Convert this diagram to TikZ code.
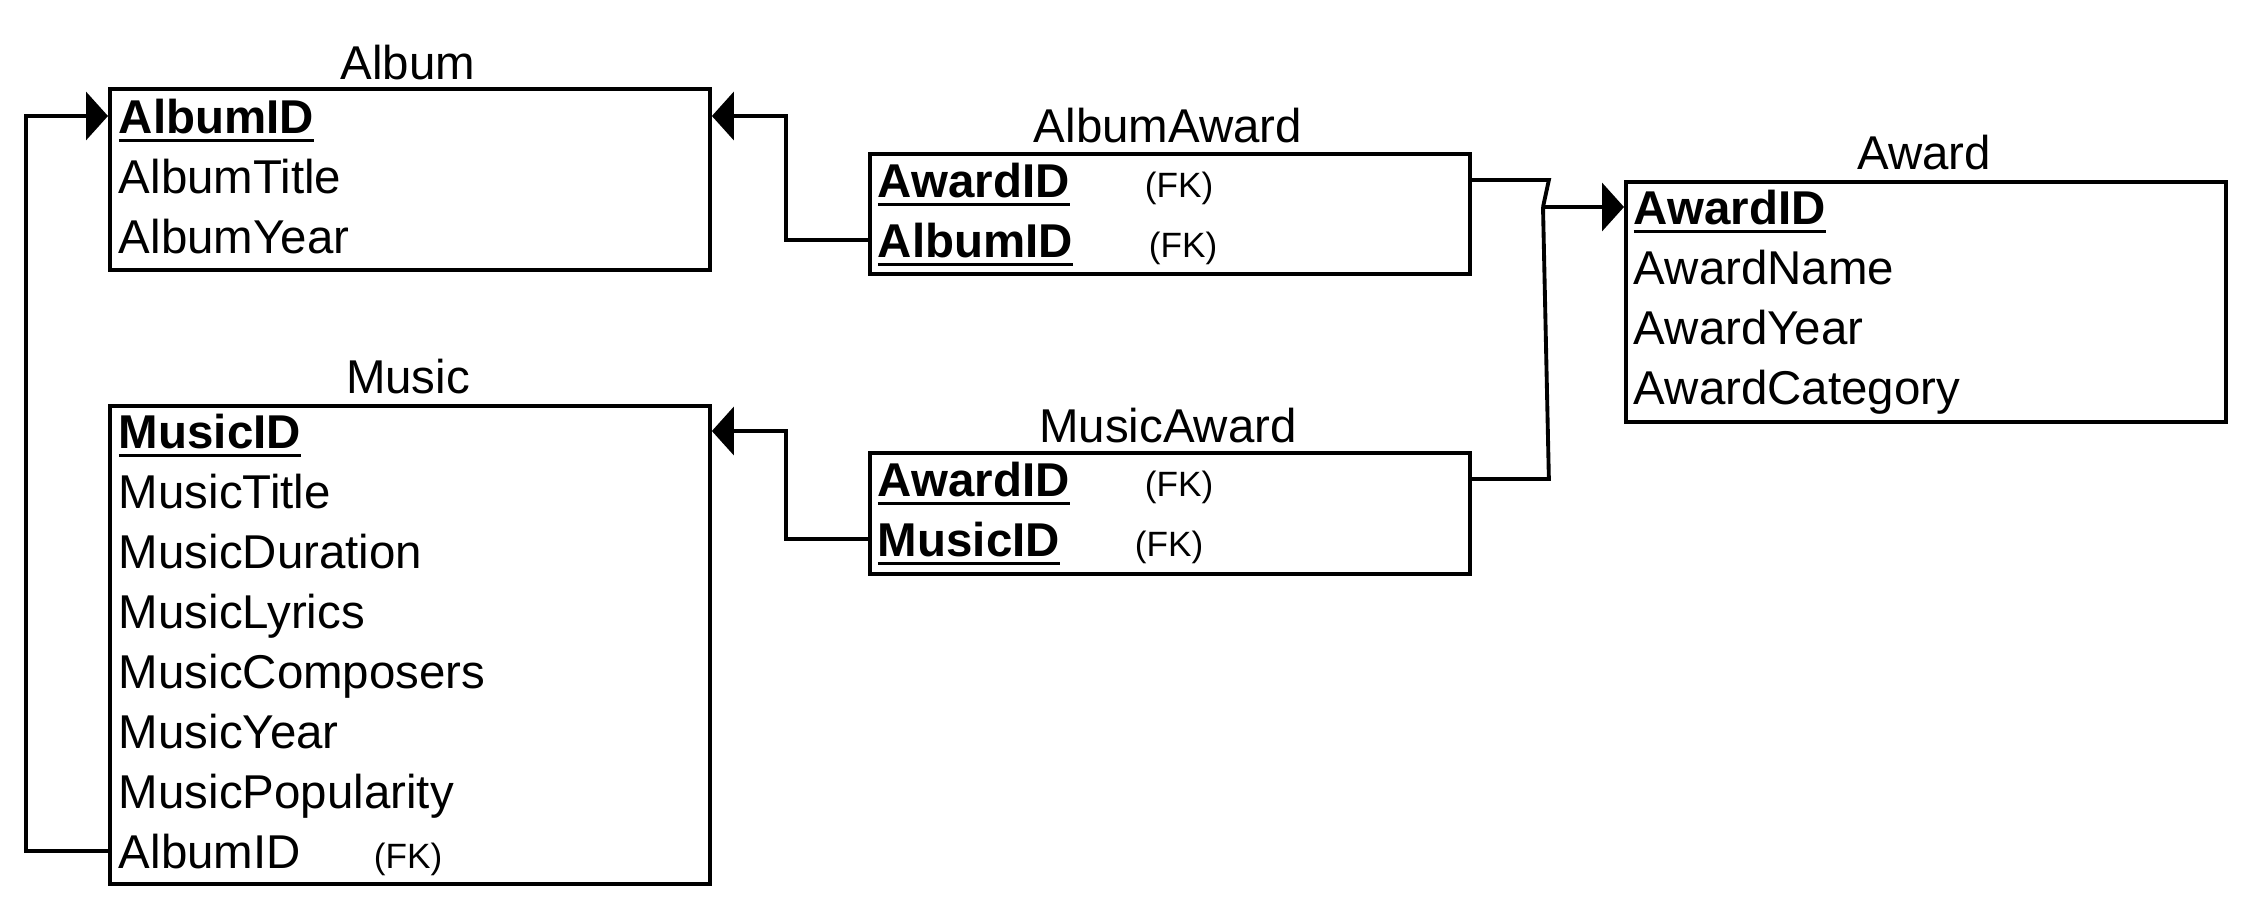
\documentclass[tikz,border=0pt]{standalone}
\usepackage{fontspec}
\setmainfont{Liberation Sans}
\usetikzlibrary{arrows.meta}

\newsavebox{\keybox}
\newcommand{\pkey}[1]{\sbox{\keybox}{\bfseries #1}\rlap{\rule[-0.09cm]{\wd\keybox}{0.035cm}}\usebox{\keybox}}

\tikzset{
  entity/.style={draw, rectangle, inner sep=0pt, anchor=north west, minimum width=6cm},
  tname/.style={anchor=base, inner sep=0pt, font=\fontsize{13.5}{16}\selectfont},
  attr/.style={anchor=base west, inner sep=0pt, text height=0.34cm, text depth=0pt, font=\fontsize{13.5}{16}\selectfont},
  fkey/.style={anchor=base west, inner sep=0pt, font=\fontsize{10}{12}\selectfont},
  link/.style={-{Triangle[length=0.22cm, width=0.48cm]}},
}

\begin{document}
\begin{tikzpicture}[line width=1.1pt]
    \useasboundingbox (0,0) rectangle (22.52,-9.12);

    % Album
    \node[entity, minimum height=1.81cm] (album) at (1.08,-0.87) {};
    \node[tname] at (4.08,-0.79) {Album};
    \node[attr] (album1) at (1.17,-1.33) {\pkey{AlbumID}};
    \node[attr] (album2) at (1.17,-1.93) {AlbumTitle};
    \node[attr] (album3) at (1.17,-2.53) {AlbumYear};

    % Music
    \node[entity, minimum height=4.78cm] (music) at (1.08,-4.04) {};
    \node[tname] at (4.08,-3.93) {Music};
    \node[attr] (music1) at (1.17,-4.48) {\pkey{MusicID}};
    \node[attr] (music2) at (1.17,-5.08) {MusicTitle};
    \node[attr] (music3) at (1.17,-5.68) {MusicDuration};
    \node[attr] (music4) at (1.17,-6.28) {MusicLyrics};
    \node[attr] (music5) at (1.17,-6.88) {MusicComposers};
    \node[attr] (music6) at (1.17,-7.48) {MusicYear};
    \node[attr] (music7) at (1.17,-8.08) {MusicPopularity};
    \node[attr] (music8) at (1.17,-8.68) {AlbumID};
    \node[fkey] (music8fk) at (3.72,-8.68) {(FK)};

    % AlbumAward
    \node[entity, minimum height=1.20cm] (albumaward) at (8.68,-1.52) {};
    \node[tname] at (11.68,-1.42) {AlbumAward};
    \node[attr] (aa1) at (8.76,-1.97) {\pkey{AwardID}};
    \node[fkey] (aa1fk) at (11.43,-1.97) {(FK)};
    \node[attr] (aa2) at (8.76,-2.57) {\pkey{AlbumID}};
    \node[fkey] (aa2fk) at (11.47,-2.57) {(FK)};

    % MusicAward
    \node[entity, minimum height=1.21cm] (musicaward) at (8.68,-4.51) {};
    \node[tname] at (11.68,-4.42) {MusicAward};
    \node[attr] (ma1) at (8.76,-4.96) {\pkey{AwardID}};
    \node[fkey] (ma1fk) at (11.43,-4.96) {(FK)};
    \node[attr] (ma2) at (8.76,-5.56) {\pkey{MusicID}};
    \node[fkey] (ma2fk) at (11.33,-5.56) {(FK)};

    % Award
    \node[entity, minimum height=2.40cm] (award) at (16.24,-1.80) {};
    \node[tname] at (19.24,-1.69) {Award};
    \node[attr] (award1) at (16.32,-2.24) {\pkey{AwardID}};
    \node[attr] (award2) at (16.32,-2.84) {AwardName};
    \node[attr] (award3) at (16.32,-3.44) {AwardYear};
    \node[attr] (award4) at (16.32,-4.04) {AwardCategory};

    % links
    \draw[link] (music8 -| music.west) -- ++(-0.82,0) |- (album1 -| album.west);
    \draw[link] (aa2 -| albumaward.west) -- ++(-0.82,0) |- (album1 -| album.east);
    \draw[link] (ma2 -| musicaward.west) -- ++(-0.82,0) |- (music1 -| music.east);
    \coordinate (bend) at (15.43,-2.07);
    \draw (aa1 -| albumaward.east) -- ++(0.77,0) -- (bend);
    \draw (ma1 -| musicaward.east) -- ++(0.77,0) -- (bend);
    \draw[link] (bend) -- (award1 -| award.west);
\end{tikzpicture}
\end{document}
